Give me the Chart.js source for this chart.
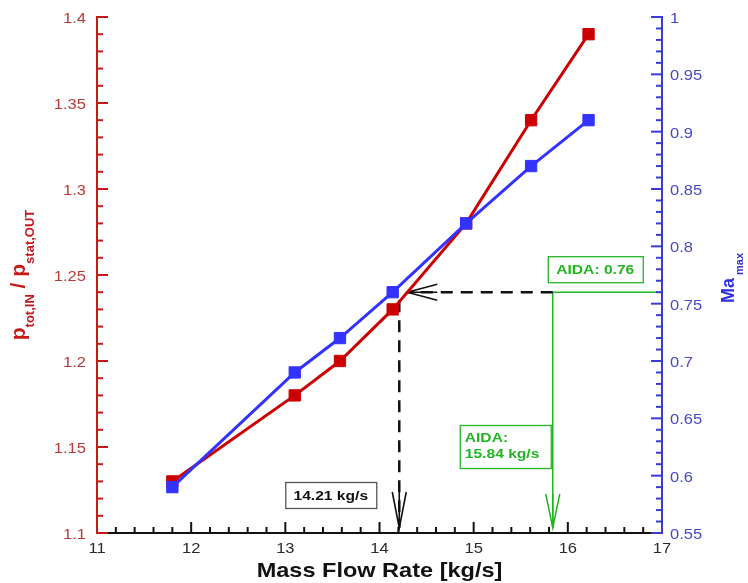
<!DOCTYPE html>
<html>
<head>
<meta charset="utf-8">
<script src="https://cdn.jsdelivr.net/npm/chart.js@4.4.1/dist/chart.umd.min.js"></script>
<style>
  html, body { margin: 0; padding: 0; background: #ffffff; }
  #wrap { width: 748px; height: 583px; }
</style>
</head>
<body>
<div id="wrap"><canvas id="c" width="748" height="583"></canvas></div>
<script>
// Operating line: mass flow vs. total-to-static pressure ratio and peak Mach number
const massFlow      = [11.8, 13.1, 13.58, 14.14, 14.92, 15.61, 16.22];
const pressureRatio = [1.13, 1.18, 1.20, 1.23, 1.28, 1.34, 1.39];
const machMax       = [0.59, 0.69, 0.72, 0.76, 0.82, 0.87, 0.91];

// Axis tick values
const xTicks     = [11, 12, 13, 14, 15, 16, 17];
const leftTicks  = [1.1, 1.15, 1.2, 1.25, 1.3, 1.35, 1.4];
const rightTicks = [0.55, 0.6, 0.65, 0.7, 0.75, 0.8, 0.85, 0.9, 0.95, 1];

// Design point and AIDA reference values
const designFlow = 14.21;
const aidaFlow   = 15.84;
const aidaMach   = 0.76;
const designFlowLabel = '14.21 kg/s';
const aidaMachLabel   = 'AIDA: 0.76';
const aidaFlowLabel   = ['AIDA:', '15.84 kg/s'];

const FONT = '"Liberation Sans", Arial, sans-serif';
const RED = '#cc0000', BLUE = '#3333ff', GREEN = '#22b522';

function stretchText(ctx, s, x, y, font, color, align, sx) {
  ctx.save();
  ctx.font = font;
  ctx.fillStyle = color;
  ctx.textBaseline = 'alphabetic';
  ctx.textAlign = 'left';
  const w = ctx.measureText(s).width * sx;
  const x0 = align === 'center' ? x - w / 2 : align === 'right' ? x - w : x;
  ctx.translate(x0, y);
  ctx.scale(sx, 1);
  ctx.fillText(s, 0, 0);
  ctx.restore();
}

function line(ctx, x1, y1, x2, y2) {
  ctx.beginPath(); ctx.moveTo(x1, y1); ctx.lineTo(x2, y2); ctx.stroke();
}

// open arrowhead: tip at (tx,ty), pointing along (dx,dy)
function arrowHead(ctx, tx, ty, dx, dy, len, half) {
  const px = -dy, py = dx;
  const bx = tx - dx * len, by = ty - dy * len;
  ctx.save();
  ctx.setLineDash([]);
  ctx.beginPath();
  ctx.moveTo(bx + px * half, by + py * half);
  ctx.lineTo(tx, ty);
  ctx.lineTo(bx - px * half, by - py * half);
  ctx.moveTo(bx, by);
  ctx.lineTo(tx, ty);
  ctx.stroke();
  ctx.restore();
}

function labelBox(ctx, lines, left, top, w, h, color, border, sx) {
  ctx.save();
  ctx.fillStyle = '#ffffff';
  ctx.fillRect(left, top, w, h);
  ctx.strokeStyle = border;
  ctx.lineWidth = 1.3;
  ctx.strokeRect(left + 0.5, top + 0.5, w, h);
  ctx.restore();
  const f = 'bold 12px ' + FONT;
  if (lines.length === 1) {
    stretchText(ctx, lines[0], left + w / 2, top + h / 2 + 4.5, f, color, 'center', sx);
  } else {
    lines.forEach((t, i) => stretchText(ctx, t, left + 5, top + 17 + i * 16, f, color, 'left', sx));
  }
}

const decorations = {
  id: 'decorations',
  beforeDatasetsDraw(chart) {
    const ctx = chart.ctx, ca = chart.chartArea;
    const xs = chart.scales.x, yr = chart.scales.y1;
    const xd = xs.getPixelForValue(designFlow);
    const xa = xs.getPixelForValue(aidaFlow);
    const ym = yr.getPixelForValue(aidaMach);
    const tipY = ca.bottom - 5;

    // AIDA reference lines (green)
    ctx.save();
    ctx.strokeStyle = GREEN;
    ctx.lineWidth = 1.5;
    line(ctx, ca.right, ym, xa, ym);
    line(ctx, xa, ym, xa, tipY);
    arrowHead(ctx, xa, tipY, 0, 1, 34, 7);
    ctx.restore();

    // design point read-off (black dashed)
    ctx.save();
    ctx.strokeStyle = '#111111';
    ctx.lineWidth = 2.5;
    ctx.setLineDash([12, 8]);
    line(ctx, xa, ym, xd + 8, ym);
    line(ctx, xd, ym + 8, xd, tipY);
    ctx.lineWidth = 1.6;
    arrowHead(ctx, xd + 8, ym, -1, 0, 30, 8);
    arrowHead(ctx, xd, tipY, 0, 1, 36, 7);
    ctx.restore();

    labelBox(ctx, [designFlowLabel], xd - 114, ca.bottom - 51, 91, 26, '#111111', '#555555', 1.3);
    labelBox(ctx, [aidaMachLabel], xa - 5, ym - 36, 95, 26, GREEN, GREEN, 1.3);
    labelBox(ctx, aidaFlowLabel, xa - 93, ca.bottom - 108, 91, 43, GREEN, GREEN, 1.3);
  },
  afterDraw(chart) {
    const ctx = chart.ctx, ca = chart.chartArea;
    const xs = chart.scales.x, yl = chart.scales.y, yr = chart.scales.y1;
    ctx.save();
    ctx.lineCap = 'butt';

    // bottom axis with inward ticks
    ctx.strokeStyle = '#111111';
    ctx.lineWidth = 2;
    line(ctx, ca.left, ca.bottom, ca.right, ca.bottom);
    for (let i = 1; i < 30; i++) {
      const px = xs.getPixelForValue(xs.min + i * 0.2);
      line(ctx, px, ca.bottom, px, ca.bottom - (i % 5 === 0 ? 11 : 6));
    }
    xs.ticks.forEach(t => {
      stretchText(ctx, String(t.value), xs.getPixelForValue(t.value), ca.bottom + 20,
        '14px ' + FONT, '#2a2a2a', 'center', 1.18);
    });

    // left axis
    ctx.strokeStyle = '#c41a1a';
    line(ctx, ca.left, ca.top - 1, ca.left, ca.bottom + 1);
    for (let i = 0; i <= 30; i++) {
      const py = yl.getPixelForValue(yl.min + i * 0.01);
      line(ctx, ca.left, py, ca.left + (i % 5 === 0 ? 11 : 6), py);
    }
    yl.ticks.forEach(t => {
      stretchText(ctx, String(+t.value.toFixed(2)), ca.left - 11, yl.getPixelForValue(t.value) + 6,
        '14px ' + FONT, '#b83a3a', 'right', 1.18);
    });

    // right axis
    ctx.strokeStyle = '#3a3ad6';
    line(ctx, ca.right, ca.top - 1, ca.right, ca.bottom + 1);
    for (let i = 0; i <= 45; i++) {
      const py = yr.getPixelForValue(yr.min + i * 0.01);
      line(ctx, ca.right, py, ca.right - (i % 5 === 0 ? 11 : 6), py);
    }
    yr.ticks.forEach(t => {
      stretchText(ctx, String(+t.value.toFixed(2)), ca.right + 8, yr.getPixelForValue(t.value) + 6,
        '14px ' + FONT, '#4848c8', 'left', 1.18);
    });

    // x title
    stretchText(ctx, 'Mass Flow Rate [kg/s]', (ca.left + ca.right) / 2 - 0, ca.bottom + 44,
      'bold 21px ' + FONT, '#111111', 'center', 1.12);

    // left title: p_tot,IN / p_stat,OUT
    const parts = [
      ['p', 'bold 21px ', 0], ['tot,IN', 'bold 13px ', 9],
      [' / ', 'bold 21px ', 0], ['p', 'bold 21px ', 0], ['stat,OUT', 'bold 13px ', 9]
    ];
    let total = 0;
    parts.forEach(p => { ctx.font = p[1] + FONT; p.push(ctx.measureText(p[0]).width); total += p[3]; });
    ctx.save();
    ctx.translate(25, (ca.top + ca.bottom) / 2 + total / 2);
    ctx.rotate(-Math.PI / 2);
    ctx.fillStyle = '#c41a1a';
    let cx = 0;
    parts.forEach(p => { ctx.font = p[1] + FONT; ctx.fillText(p[0], cx, p[2]); cx += p[3]; });
    ctx.restore();

    // right title: Ma_max
    ctx.save();
    ctx.translate(734, 303);
    ctx.rotate(-Math.PI / 2);
    ctx.fillStyle = '#2f2fe0';
    ctx.font = 'bold 18px ' + FONT;
    ctx.fillText('Ma', 0, 0);
    const wMa = ctx.measureText('Ma').width;
    ctx.font = 'bold 11px ' + FONT;
    ctx.fillText('max', wMa + 3, 9);
    ctx.restore();

    ctx.restore();
  }
};

new Chart(document.getElementById('c'), {
  type: 'line',
  data: {
    datasets: [
      {
        label: 'Ma max',
        data: massFlow.map((x, i) => ({ x, y: machMax[i] })),
        yAxisID: 'y1',
        borderColor: BLUE, backgroundColor: BLUE,
        borderWidth: 3, tension: 0,
        pointStyle: 'rect', pointRadius: 8, pointBorderWidth: 1,
        pointBackgroundColor: BLUE, pointBorderColor: BLUE,
        order: 1
      },
      {
        label: 'p tot,IN / p stat,OUT',
        data: massFlow.map((x, i) => ({ x, y: pressureRatio[i] })),
        yAxisID: 'y',
        borderColor: RED, backgroundColor: RED,
        borderWidth: 3, tension: 0,
        pointStyle: 'rect', pointRadius: 8, pointBorderWidth: 1,
        pointBackgroundColor: RED, pointBorderColor: RED,
        order: 2
      }
    ]
  },
  options: {
    responsive: false,
    animation: false,
    devicePixelRatio: 1,
    layout: { padding: { top: 17, left: 0, right: 0, bottom: 0 } },
    plugins: { legend: { display: false }, tooltip: { enabled: false } },
    scales: {
      x: {
        type: 'linear', min: 11, max: 17,
        grid: { display: false, drawTicks: false }, border: { display: false },
        ticks: { display: false },
        afterBuildTicks: s => { s.ticks = xTicks.map(v => ({ value: v })); },
        afterFit: s => { s.height = 50; }
      },
      y: {
        type: 'linear', position: 'left', min: 1.1, max: 1.4,
        grid: { display: false, drawTicks: false }, border: { display: false },
        ticks: { display: false },
        afterBuildTicks: s => { s.ticks = leftTicks.map(v => ({ value: v })); },
        afterFit: s => { s.width = 97; }
      },
      y1: {
        type: 'linear', position: 'right', min: 0.55, max: 1,
        grid: { display: false, drawTicks: false }, border: { display: false },
        ticks: { display: false },
        afterBuildTicks: s => { s.ticks = rightTicks.map(v => ({ value: v })); },
        afterFit: s => { s.width = 86; }
      }
    }
  },
  plugins: [decorations]
});
</script>
</body>
</html>
